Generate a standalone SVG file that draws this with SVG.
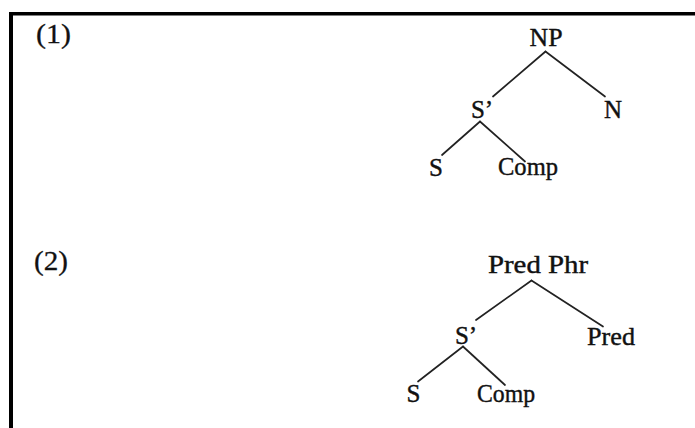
<svg xmlns="http://www.w3.org/2000/svg" width="695" height="428" viewBox="0 0 695 428">
<style>
  .lbl { font-family: "Liberation Serif", "Times New Roman", serif; font-size: 25px; fill: #111; stroke: #111; stroke-width: 0.4; text-anchor: middle; }
  .num { font-family: "Liberation Serif", "Times New Roman", serif; font-size: 28px; fill: #111; stroke: #111; stroke-width: 0.3; }
  .edge { stroke: #222; stroke-width: 1.7; fill: none; stroke-linecap: round; }
</style>
<rect x="0" y="0" width="695" height="428" fill="#ffffff"/>
<g id="frame">
  <rect x="9" y="12" width="686" height="3.5" fill="#000"/>
  <rect x="9" y="12" width="4" height="416" fill="#000"/>
</g>
<text class="num" x="36" y="43" textLength="35" lengthAdjust="spacingAndGlyphs">(1)</text>
<text class="num" x="34" y="270" textLength="34" lengthAdjust="spacingAndGlyphs">(2)</text>
<g id="connectors">
  <line class="edge" x1="545.5" y1="51.5" x2="493" y2="96.5"/>
  <line class="edge" x1="545.5" y1="51.5" x2="605" y2="96.5"/>
  <line class="edge" x1="480" y1="121.5" x2="442" y2="155"/>
  <line class="edge" x1="480" y1="121.5" x2="525" y2="161.5"/>
  <line class="edge" x1="531.5" y1="280.5" x2="476" y2="320"/>
  <line class="edge" x1="531.5" y1="280.5" x2="603" y2="326.5"/>
  <line class="edge" x1="463" y1="346.5" x2="418" y2="381.5"/>
  <line class="edge" x1="463" y1="346.5" x2="505" y2="385"/>
</g>
<g id="np1"><text class="lbl" x="546" y="46" textLength="33" lengthAdjust="spacingAndGlyphs">NP</text></g>
<g id="n1"><text class="lbl" x="613" y="118">N</text></g>
<g id="sbar1"><text class="lbl" x="482" y="118">S’</text></g>
<g id="s1"><text class="lbl" x="436" y="176">S</text></g>
<g id="comp1"><text class="lbl" x="528" y="175" textLength="60" lengthAdjust="spacingAndGlyphs">Comp</text></g>
<g id="predphr2"><text class="lbl" x="538" y="273" textLength="100" lengthAdjust="spacingAndGlyphs">Pred Phr</text></g>
<g id="sbar2"><text class="lbl" x="466" y="344">S’</text></g>
<g id="pred2"><text class="lbl" x="611" y="345" textLength="48" lengthAdjust="spacingAndGlyphs">Pred</text></g>
<g id="s2"><text class="lbl" x="413.5" y="402">S</text></g>
<g id="comp2"><text class="lbl" x="506" y="402" textLength="58" lengthAdjust="spacingAndGlyphs">Comp</text></g>
</svg>
